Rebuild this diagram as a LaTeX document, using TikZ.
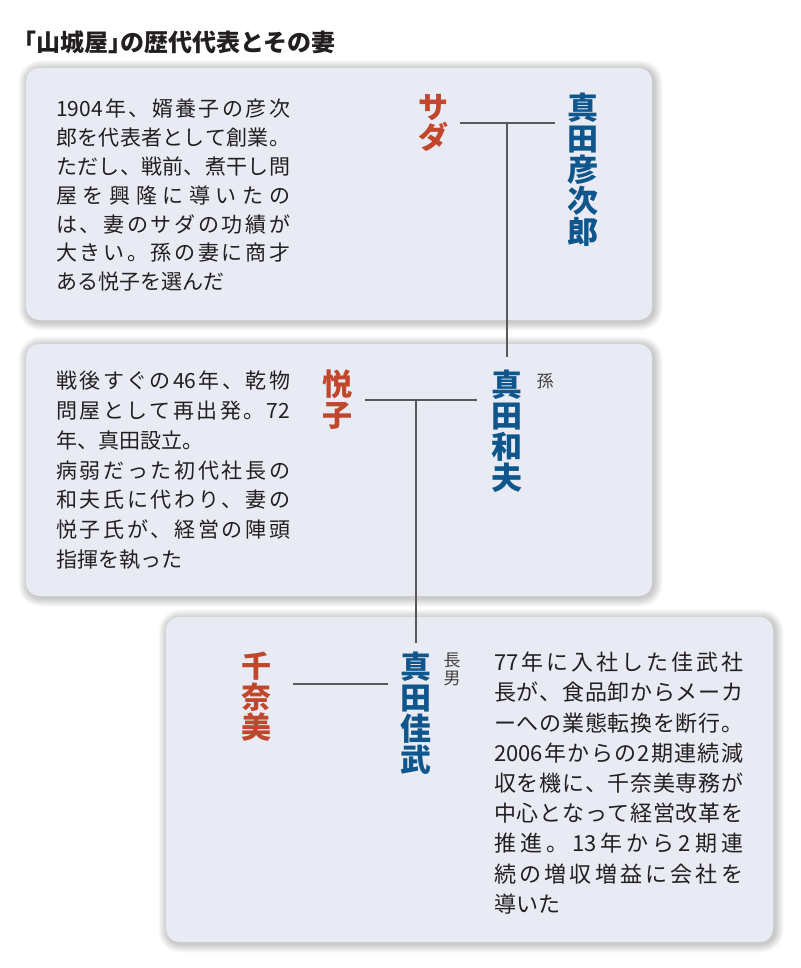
\documentclass[tikz,border=0pt]{standalone}
\usepackage{fontspec}
\setmainfont{Noto Sans CJK JP}
\definecolor{panelfill}{HTML}{E8EBF4}
\definecolor{wred}{HTML}{C1462B}
\definecolor{wblue}{HTML}{0E568C}
\definecolor{conncol}{HTML}{595959}
\definecolor{txt}{HTML}{231F20}
\makeatletter
\newcommand\J[1]{\leavevmode\hbox to \hsize{\J@first#1\J@stop}}
\def\J@first#1{#1\J@rest}
\def\J@rest#1{\ifx\J@stop#1\else\hfill#1\expandafter\J@rest\fi}
\def\J@stop{J@stop@marker}
\makeatother
\newcommand\panelbox[4]{%
  \foreach \s in {1,...,9}{%
    \fill[black, opacity=0.022, rounded corners={13pt+\s pt}]
      (#1-\s+1.5,#2-\s+1.5) rectangle (#3+\s+1.5,#4+\s+1.5);
  }%
  \path[panel] (#1,#2) rectangle (#3,#4);
}
\tikzset{
  panel/.style={fill=panelfill, rounded corners=13pt},
  conn/.style={draw=conncol, line width=2pt},
  wname/.style={inner sep=0pt, anchor=north, align=center, text=wred,
    font=\bfseries\fontsize{30}{30.5}\selectfont},
  hname/.style={inner sep=0pt, anchor=north, align=center, text=wblue,
    font=\bfseries\fontsize{31}{31}\selectfont},
  small/.style={inner sep=0pt, align=center, text=txt!85,
    font=\fontsize{17}{18}\selectfont},
  body/.style={inner sep=0pt, anchor=north west, align=left, text=txt},
}
\begin{document}
\begin{tikzpicture}[x=1pt, y=-1pt]
\useasboundingbox (0,0) rectangle (800,968);
\fill[white] (0,0) rectangle (800,968);

% title
\node[anchor=base west, inner sep=0pt, text=txt, font=\bfseries\fontsize{24}{24}\selectfont]
  (title) at (12,52) {「山城屋」\kern-0.5em の歴代代表とその妻};

% panels
\panelbox{26}{68}{652}{320}
\panelbox{26}{344}{652}{596}
\panelbox{166}{617}{773}{942}

% panel 1
\node[body, text width=234pt, font=\fontsize{21}{28.8}\selectfont] (t1) at (56,99) {%
\J{{1904}年、婿養子の彦次}\\
\J{郎を代表者として創業。}\\
\J{ただし、戦前、煮干し問}\\
\J{屋を興隆に導いたの}\\
\J{は、妻のサダの功績が}\\
\J{大きい。孫の妻に商才}\\
ある悦子を選んだ};
\node[wname] (sada) at (433,94) {サ\\ダ};
\node[hname] (hiko) at (583,93) {真\\田\\彦\\次\\郎};

% panel 2
\node[body, text width=234pt, font=\fontsize{21}{29.7}\selectfont] (t2) at (56,371) {%
\J{戦後すぐの{46}年、乾物}\\
\J{問屋として再出発。{72}}\\
年、真田設立。\\
\J{病弱だった初代社長の}\\
\J{和夫氏に代わり、妻の}\\
\J{悦子氏が、経営の陣頭}\\
指揮を執った};
\node[wname] (etsuko) at (337,370) {悦\\子};
\node[hname] (kazuo) at (507,370) {真\\田\\和\\夫};
\node[small, anchor=center] (mago) at (545,381) {孫};

% panel 3
\node[body, text width=249pt, font=\fontsize{22}{30.2}\selectfont] (t3) at (494,652) {%
\J{{77}年に入社した佳武社}\\
\J{長が、食品卸からメーカ}\\
\J{ーへの業態転換を断行。}\\
\J{{2006}年からの{2}期連続減}\\
\J{収を機に、千奈美専務が}\\
\J{中心となって経営改革を}\\
\J{推進。{13}年から{2}期連}\\
\J{続の増収増益に会社を}\\
導いた};
\node[wname] (chinami) at (256,652) {千\\奈\\美};
\node[hname] (yoshi) at (416,652) {真\\田\\佳\\武};
\node[small, anchor=north] (chonan) at (452,653) {長\\男};

% connectors
\draw[conn] ([xshift=12pt]sada.east) -- ([xshift=-12pt]sada.east -| hiko.west)
  coordinate[pos=0.5] (j1);
\coordinate (k1) at ([yshift=13pt]kazuo.north);
\draw[conn] (j1 -| k1) -- (k1);

\draw[conn] ([xshift=13pt]etsuko.east) -- ([xshift=-14pt]etsuko.east -| kazuo.west)
  coordinate[pos=0.5] (j2);
\coordinate (k2) at ([yshift=9pt]yoshi.north);
\draw[conn] (j2 -| k2) -- (k2);

\draw[conn] ([shift={(22pt,13pt)}]chinami.east) -- ([shift={(-12pt,13pt)}]chinami.east -| yoshi.west);
\end{tikzpicture}
\end{document}
